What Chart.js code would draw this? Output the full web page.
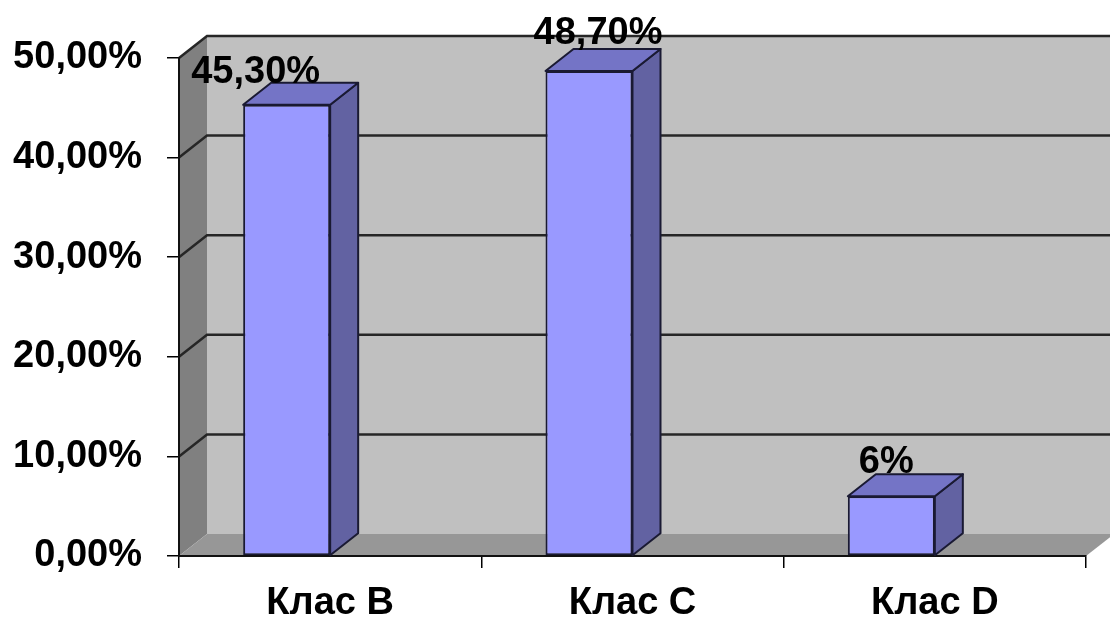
<!DOCTYPE html>
<html>
<head>
<meta charset="utf-8">
<script src="https://cdn.jsdelivr.net/npm/chart.js@4.4.1/dist/chart.umd.min.js"></script>
<style>
  html, body { margin: 0; padding: 0; background: #ffffff; }
  canvas { display: block; }
</style>
</head>
<body>
<canvas id="chart" width="1110" height="623"></canvas>
<script>
// Class distribution
const categories = ['Клас B', 'Клас C', 'Клас D'];
const shares = [45.3, 48.7, 6];
const shareLabels = ['45,30%', '48,70%', '6%'];
const yTicks = [0, 10, 20, 30, 40, 50];
const yTickLabels = ['0,00%', '10,00%', '20,00%', '30,00%', '40,00%', '50,00%'];

const FONT = "'Liberation Sans', Arial, Helvetica, sans-serif";

// Draws the walls/floor of the 3D box behind the bars and the
// extruded side and top faces of every bar, plus the value labels.
const box3d = {
  id: 'box3d',
  beforeDraw(chart, args, o) {
    const { ctx, scales: { x, y } } = chart;
    const L = x.left, R = x.right;
    const B = y.getPixelForValue(yTicks[0]);
    const T = y.getPixelForValue(yTicks[yTicks.length - 1]);
    const dx = o.dx, dy = o.dy;
    const poly = (pts, fill) => {
      ctx.beginPath();
      ctx.moveTo(pts[0][0], pts[0][1]);
      for (let i = 1; i < pts.length; i++) ctx.lineTo(pts[i][0], pts[i][1]);
      ctx.closePath();
      ctx.fillStyle = fill;
      ctx.fill();
    };
    ctx.save();
    poly([[L + dx, T + dy], [R + dx, T + dy], [R + dx, B + dy], [L + dx, B + dy]], o.backWall);
    poly([[L, T], [L + dx, T + dy], [L + dx, B + dy], [L, B]], o.sideWall);
    poly([[L, B], [R, B], [R + dx, B + dy], [L + dx, B + dy]], o.floor);

    ctx.strokeStyle = o.gridColor;
    ctx.lineWidth = o.gridWidth;
    ctx.lineJoin = 'miter';
    yTicks.forEach(v => {
      if (v === yTicks[0]) return;
      const yy = y.getPixelForValue(v);
      ctx.beginPath();
      ctx.moveTo(L, yy);
      ctx.lineTo(L + dx, yy + dy);
      ctx.lineTo(R + dx, yy + dy);
      ctx.stroke();
    });
    ctx.restore();
  },
  afterDatasetsDraw(chart, args, o) {
    const { ctx } = chart;
    const meta = chart.getDatasetMeta(0);
    const dx = o.dx, dy = o.dy;
    ctx.save();
    ctx.lineWidth = o.edgeWidth;
    ctx.strokeStyle = o.edgeColor;
    ctx.lineJoin = 'round';
    meta.data.forEach((bar, i) => {
      const p = bar.getProps(['x', 'y', 'base', 'width'], true);
      const left = p.x - p.width / 2, right = p.x + p.width / 2;
      const top = p.y, base = p.base;
      // side face
      ctx.beginPath();
      ctx.moveTo(right, top);
      ctx.lineTo(right + dx, top + dy);
      ctx.lineTo(right + dx, base + dy);
      ctx.lineTo(right, base);
      ctx.closePath();
      ctx.fillStyle = o.sideColor;
      ctx.fill();
      ctx.stroke();
      // top face
      ctx.beginPath();
      ctx.moveTo(left, top);
      ctx.lineTo(right, top);
      ctx.lineTo(right + dx, top + dy);
      ctx.lineTo(left + dx, top + dy);
      ctx.closePath();
      ctx.fillStyle = o.topColor;
      ctx.fill();
      ctx.stroke();
    });
    // value labels
    ctx.fillStyle = '#000000';
    ctx.font = 'bold 38px ' + FONT;
    ctx.textAlign = 'center';
    ctx.textBaseline = 'alphabetic';
    meta.data.forEach((bar, i) => {
      const p = bar.getProps(['x', 'y'], true);
      const n = o.labelNudge[i];
      ctx.fillText(shareLabels[i], p.x + n[0], p.y + dy + n[1]);
    });
    ctx.restore();
  }
};

new Chart(document.getElementById('chart'), {
  type: 'bar',
  data: {
    labels: categories,
    datasets: [
      {
        data: shares,
        backgroundColor: '#9999ff',
        borderColor: '#1a1a33',
        borderWidth: 2,
        borderSkipped: false,
        categoryPercentage: 0.5756,
        barPercentage: 1
      },
      {
        // empty slot so the bar sits left of the category centre
        data: [null, null, null],
        categoryPercentage: 0.5756,
        barPercentage: 1
      }
    ]
  },
  options: {
    responsive: false,
    animation: false,
    events: [],
    layout: { padding: { left: 13, right: 24, top: 58, bottom: 0 } },
    plugins: {
      legend: { display: false },
      tooltip: { enabled: false },
      box3d: {
        dx: 28,
        dy: -22,
        backWall: '#c0c0c0',
        sideWall: '#808080',
        floor: '#979797',
        gridColor: '#262626',
        gridWidth: 2.5,
        edgeColor: '#1a1a33',
        edgeWidth: 2,
        sideColor: '#6262a2',
        topColor: '#7474c6',
        labelNudge: [[-31, 0], [9, -5], [-5, -1]]
      }
    },
    scales: {
      x: {
        grid: {
          drawOnChartArea: false,
          drawTicks: true,
          tickLength: 12,
          color: '#000000',
          lineWidth: 1.5,
          offset: true
        },
        border: { display: true, color: '#111111', width: 2 },
        ticks: {
          color: '#000000',
          padding: 13,
          font: { family: FONT, size: 38, weight: 'bold' }
        },
        afterFit(s) { s.height = 67; }
      },
      y: {
        min: 0,
        max: 50,
        grid: {
          drawOnChartArea: false,
          drawTicks: true,
          tickLength: 12,
          color: '#000000',
          lineWidth: 1.5
        },
        border: { display: true, color: '#111111', width: 2 },
        ticks: {
          stepSize: 10,
          color: '#000000',
          padding: 25,
          font: { family: FONT, size: 38, weight: 'bold' },
          callback: v => yTickLabels[yTicks.indexOf(v)]
        },
        afterFit(s) { s.width = 166; }
      }
    }
  },
  plugins: [box3d]
});
</script>
</body>
</html>
